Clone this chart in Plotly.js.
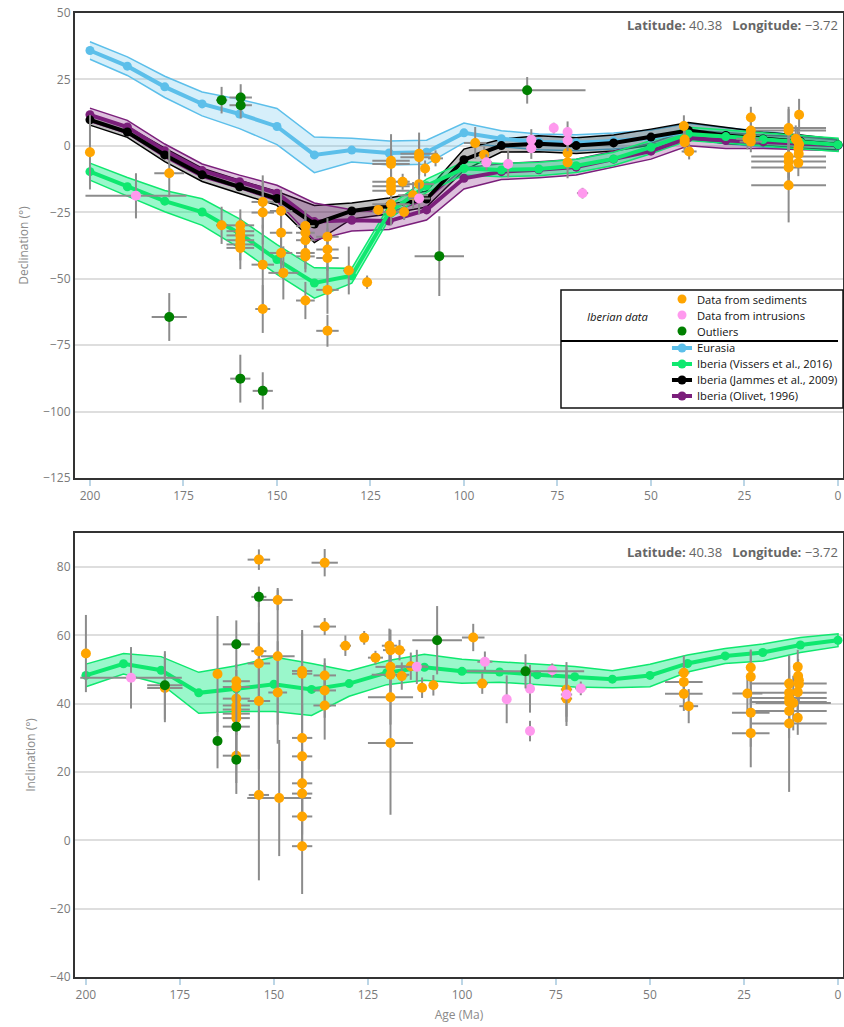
<!DOCTYPE html>
<html>
<head>
<meta charset="utf-8">
<script src="https://cdn.plot.ly/plotly-3.0.1.min.js"></script>
<style>
html,body{margin:0;padding:0;background:#fff;}
#chart{width:844px;height:1027px;}
</style>
</head>
<body>
<div id="chart"></div>
<script>
// ---------- APWP model curves (age in Ma) ----------
const modelAges = [200,190,180,170,160,150,140,130,120,110,100,90,80,70,60,50,40,30,20,10,0];

const eurasiaDec    = [35.9,30,22.2,15.8,12,7.3,-3.4,-1.6,-2.7,-2.4,4.9,2.7,1.5,1.2,1.8,3,5.5,3.8,2.5,1.5,0.2];
const eurasiaDecErr = [3.3,3.5,4,4.5,5.5,6.8,6.7,4.5,4.5,4.5,3.7,3,3,3,3,3,3,3,3,2.5,2];

const vissersDec    = [-9.7,-15.4,-20.8,-24.9,-33,-42.8,-51.6,-48.9,-25,-15,-8.5,-9.1,-8.7,-7.5,-4.9,-0.5,4.5,3.5,2.4,1.4,0.4];
const vissersDecErr = [3.2,3.5,4,5,5.5,5.6,5.7,2.8,2.5,2.5,2.5,2.5,2.5,2.5,2.5,2.5,2.5,2.5,2.5,2.5,2.5];

const jammesDec     = [9.8,5.2,-3.4,-10.9,-15.4,-19.8,-29.4,-24.5,-22.6,-20,-5.2,0.1,0.8,0.1,1.1,3.3,5.8,3.9,2.6,1.6,0.4];
const jammesDecErr  = [2,2,2.5,2.5,2.5,2.6,7,3,3,3,4,2.4,3,3,3,3,3,3,2.5,2.5,2];

const olivetDec     = [11.7,7.1,-1.8,-9.3,-13.5,-17.8,-28.5,-28,-28.3,-24.1,-12.2,-9.7,-9,-8,-5,-2,3,2,1.5,1,0.2];
const olivetDecErr  = [2.5,2.5,2.5,2.5,2.5,3,7,4,3.2,3.8,4,3,3,3,3,3,3,3,2.5,2.5,2];

const vissersInc    = [48.3,51.7,49.8,43.2,44.4,45.7,44.2,45.9,49.1,50.7,49.5,49.3,48.5,47.9,47.2,48.3,51.8,54,55,57.2,58.6];
const vissersIncErr = [3.3,3,4,6,6.7,8,7.6,3.7,3.5,3.8,3.5,3,3,3,2.5,3.3,2.5,2.2,2.5,2.2,1.9];

// ---------- Iberian data: [age, value, valueErr, ageErr] ----------
const decSediments = [
 [200,-2.4,14,0.5],[178.8,-10.3,9,4],[164.8,-29.9,7,1.5],
 [159.8,-29.9,6,3.7],[159.8,-32.1,5,3.7],[159.8,-33.7,6,3.7],[159.8,-35.5,5,3.7],[159.8,-37.1,6,3.7],[159.8,-38.4,8,3.7],
 [153.8,-21.1,10,3],[153.8,-25.1,12,3],[153.8,-44.7,15,3],[153.8,-61.4,9,2],
 [148.9,-24.5,8,3],[148.9,-32.7,7,3],[148.9,-40.3,8,3],[148.3,-47.8,10,4],
 [142.4,-30.2,6,2.5],[142.4,-32.7,6,2.5],[142.4,-35.5,6,2.5],[142.4,-40.3,6,2.5],[142.4,-41.6,6,2.5],[142.4,-58.2,7,2.5],
 [136.5,-34.2,7,3],[136.5,-39,8,3],[136.5,-42.2,9,3],[136.5,-54.2,9,3],[136.5,-69.6,6,3],
 [130.8,-46.9,9,1.5],[125.9,-51.3,2.5,1],[122.9,-24.1,2,1.5],
 [119.5,-5.6,10,5],[119.5,-6.8,6,5],[119.5,-13.5,6,5],[119.5,-15.2,5,5],[119.5,-16.9,5,5],[119.5,-22,7,5],[119.5,-24.9,5,5],
 [116.4,-13.5,3,1.5],[116,-24.9,3,1.5],[112,-3,8,5],[112,-4.3,6,5],[112,-14.4,10,4],[110.4,-8.5,3,1],[113.6,-18.6,5,4],
 [107.6,-4.7,3,2],[97,1.1,6,3],[94.6,-3.3,3,1.5],[72.3,-2.7,6,1],[72.3,-6.2,6,1],
 [41.2,7.5,4,1],[41,2.4,4,1],[41,1.4,4,1],[39.8,-2.1,3,2],
 [23.3,10.7,4,1],[23.3,5.8,4,1],[23.3,3.9,4,1],[24.2,2.7,4,3],[23.3,1.6,4,3],
 [13.2,6.7,8,10],[13.2,5.8,8,10],[13.2,-4,8,10],[13.2,-5.9,8,10],[13.2,-8.1,8,10],[13.2,-14.8,14,10],
 [10.4,11.7,6,1],[11.3,2.7,5,1],[10.8,1.8,5,1],[10.4,0.5,5,1],[10.6,-1,5,1],[10.5,-3,5,1],[10.6,-6.4,5,1]
];
const decIntrusions = [
 [187.7,-18.8,8.5,13.5],[112,-19.8,6,3],[94,-6.2,3,1.5],[88.2,-6.8,5,1],[82,2.3,4,1],[82,-0.9,4,1],
 [76,6.7,2,1],[72.3,5.2,4,1],[72.3,2.0,4,1],[68.3,-17.8,2,1.5]
];
const decOutliers = [
 [178.8,-64.4,9,4.7],[164.8,17.2,5,1.5],[159.7,18.2,5,3],[159.7,15.3,5,3],
 [159.8,-87.6,9,2.7],[153.8,-92.2,7,2.7],[106.6,-41.5,15,6.6],[83.1,20.9,5,15.6]
];

const incSediments = [
 [200,54.7,11.3,0.5],[179,44.6,10,4.7],[165,48.7,17,1],
 [160,46.6,5,3.6],[160,44.9,5,3.6],[160,41.5,5,3.6],[160,39.5,5,3.6],[160,38.3,5,3.6],[160,37.1,5,3.6],[160,35.8,5,3.6],[160,24.8,8,3.6],
 [154,82.2,3,3],[154,55.4,15,2],[154,51.8,12,3],[154,40.8,20,3],[154,13.3,25,2.7],
 [149,70.4,3,4],[149,53.9,20,4.5],[149,43.3,15,2.5],[148.6,12.4,17,8.5],
 [142.5,49.6,12,2.7],[142.5,48.8,12,2.7],[142.5,30,10,2.7],[142.5,24.6,12,2.7],[142.5,16.7,10,2.7],[142.5,13.7,12,2.7],[142.5,7,10,2.7],[142.5,-1.7,14,2.7],
 [136.5,81.3,4,3.5],[136.5,62.6,2.5,3],[136.5,48.3,5,3],[136.5,43.9,8,3],[136.5,39.5,10,3],
 [131,57,3,1.5],[126,59.3,2,1],[123,53.5,2,2],
 [119.3,57,5,2],[119,55.7,6,2],[119,50.8,6,4],[119,48.5,6,5],[119,41.9,8,6],[119,28.5,21,6],
 [116.6,55.7,3,1.5],[116,48.1,4,1.5],[113.6,51,4,4],[110.6,44.7,3,1],[107.6,45.4,3,1],
 [97,59.4,4,3],[94.6,45.9,3,1.5],[72.2,44.2,8,1.5],[72.2,41.5,8,1.5],
 [41,49.1,5,1.5],[41,46.4,5,5],[41,42.9,5,5],[39.7,39.3,5,2.5],
 [23.2,50.6,5,1],[23.2,47.9,8,1],[24.1,43,5,4],[23.2,37.4,10,5],[23.2,31.4,10,5],
 [13,45.9,8,10],[13,43.2,8,10],[13,41.7,8,10],[13,40.5,8,10],[11.9,40.2,8,10],[13,37.9,8,10],[13,34.2,20,10],
 [10.7,50.8,5,1],[10.6,48.1,5,1],[10.4,46.9,5,1],[10.4,45.7,5,1],[10.7,43.4,6,1],[10.7,35.9,5,1]
];
const incIntrusions = [
 [188,47.6,9,13.5],[112,50.8,5,3],[93.9,52.3,3,2],[88.1,41.3,7,1],[81.9,44.4,7,1],[81.9,32,3,1],
 [76,49.8,2,1],[72.2,42.7,8,1.5],[68.4,44.5,2,1.5]
];
const incOutliers = [
 [179,45.4,10,4.7],[165,29.1,8,1],[160,57.4,7,3.6],[160,33.3,10,3.6],[160,23.6,10,1],
 [154,71.3,3,2],[106.6,58.6,10,6.6],[83.1,49.5,5,15.6]
];

const ageTicks = [200,175,150,125,100,75,50,25,0];
const decTicks = [50,25,0,-25,-50,-75,-100,-125];
const incTicks = [80,60,40,20,0,-20,-40];

const legendDataLabels = ['Data from sediments','Data from intrusions','Outliers'];
const legendCurveLabels = ['Eurasia','Iberia (Vissers et al., 2016)','Iberia (Jammes et al., 2009)','Iberia (Olivet, 1996)'];

// ---------- styles ----------
const C = {
  eur:'#5cbfea', eurFill:'rgba(92,191,234,0.25)',
  vis:'#0fe86f', visFill:'rgba(15,235,130,0.42)',
  jam:'#000000', jamFill:'rgba(0,0,0,0.25)',
  oli:'#7b1f7b', oliFill:'rgba(128,30,128,0.28)',
  sed:'#ffa500', intr:'#ff99ee', out:'#008000'
};

const traces = [];
function band(vals, errs, line, fill, xa, ya){
  const up = vals.map((v,i)=>v+errs[i]);
  const lo = vals.map((v,i)=>v-errs[i]);
  traces.push({x: modelAges.concat(modelAges.slice().reverse()), y: up.concat(lo.slice().reverse()),
    xaxis:xa, yaxis:ya, mode:'lines', fill:'toself', fillcolor:fill,
    line:{color:line,width:1.5}, hoverinfo:'skip', showlegend:false});
}
function curve(vals, color, xa, ya){
  traces.push({x: modelAges, y: vals, xaxis:xa, yaxis:ya, mode:'lines+markers',
    line:{color:color,width:4}, marker:{color:color,size:9}, showlegend:false});
}
function dataPts(rows, color, xa, ya){
  traces.push({x: rows.map(r=>r[0]), y: rows.map(r=>r[1]), xaxis:xa, yaxis:ya, mode:'markers',
    marker:{color:color,size:10},
    error_y:{type:'data', array: rows.map(r=>r[2]), color:'#8c8c8c', thickness:2, width:0},
    error_x:{type:'data', array: rows.map(r=>r[3]), color:'#8c8c8c', thickness:2, width:0},
    showlegend:false});
}

// top: declination
band(eurasiaDec, eurasiaDecErr, C.eur, C.eurFill, 'x','y');
band(jammesDec, jammesDecErr, C.jam, C.jamFill, 'x','y');
band(olivetDec, olivetDecErr, C.oli, C.oliFill, 'x','y');
band(vissersDec, vissersDecErr, C.vis, C.visFill, 'x','y');
curve(eurasiaDec, C.eur, 'x','y');
curve(olivetDec, C.oli, 'x','y');
curve(jammesDec, C.jam, 'x','y');
curve(vissersDec, C.vis, 'x','y');
dataPts(decSediments, C.sed, 'x','y');
dataPts(decIntrusions, C.intr, 'x','y');
dataPts(decOutliers, C.out, 'x','y');

// bottom: inclination
band(vissersInc, vissersIncErr, C.vis, C.visFill, 'x2','y2');
curve(vissersInc, C.vis, 'x2','y2');
dataPts(incSediments, C.sed, 'x2','y2');
dataPts(incIntrusions, C.intr, 'x2','y2');
dataPts(incOutliers, C.out, 'x2','y2');

// ---------- layout ----------
const FAM = '"Open Sans", sans-serif';
const font = {family:FAM, size:12, color:'#7a7a7a'};
function xax(range, anchor, title){
  return {range:range, anchor:anchor, domain:[0,1], tickvals:ageTicks, ticks:'outside', ticklen:6, tickwidth:2,
    tickcolor:'#bcd6e6', showgrid:false, zeroline:false, showline:true, linecolor:'#333', linewidth:2, mirror:true,
    tickfont:{family:FAM,size:12,color:'#7a7a7a'},
    title: title ? {text:title, font:{family:FAM,size:12,color:'#8a8a8a'}, standoff:8} : undefined};
}
function yax(range, domain, ticks, title){
  return {range:range, domain:domain, tickvals:ticks, ticks:'', showgrid:true, gridcolor:'#dedede', gridwidth:2,
    zeroline:false, showline:true, linecolor:'#333', linewidth:2, mirror:true,
    tickfont:{family:FAM,size:12,color:'#7a7a7a'},
    title:{text:title, font:{family:FAM,size:12,color:'#8a8a8a'}, standoff:12}};
}

const shapes = [];
const annotations = [];
// legend box
const LX0 = 0.6328, LX1 = 1.0, LY0 = 0.5902, LY1 = 0.7127;
shapes.push({type:'rect', xref:'paper', yref:'paper', x0:LX0, x1:LX1, y0:LY0, y1:LY1,
  line:{color:'#111', width:1.5}, fillcolor:'#fff', layer:'above'});
shapes.push({type:'line', xref:'paper', yref:'paper', x0:LX0, x1:0.9935, y0:0.6598, y1:0.6598,
  line:{color:'#000', width:2}, layer:'above'});
const rowY = [0.7033,0.6867,0.6701,0.6525,0.6359,0.6193,0.6027];
const mx = 0.7904;
const dataColors = [C.sed, C.intr, C.out];
const curveColors = [C.eur, C.vis, C.jam, C.oli];
const legFont = {family:FAM, size:11.2, color:'#111'};
legendDataLabels.forEach((lab,i)=>{
  shapes.push({type:'circle', xref:'paper', yref:'paper', xsizemode:'pixel', ysizemode:'pixel',
    xanchor:mx, yanchor:rowY[i], x0:-4.5, x1:4.5, y0:-4.5, y1:4.5,
    fillcolor:dataColors[i], line:{width:0}, layer:'above'});
  annotations.push({xref:'paper', yref:'paper', x:0.8073, y:rowY[i], xanchor:'left', yanchor:'middle',
    text:lab, showarrow:false, font:legFont});
});
legendCurveLabels.forEach((lab,i)=>{
  const y = rowY[i+3];
  shapes.push({type:'line', xref:'paper', yref:'paper', x0:0.7773, x1:0.8034, y0:y, y1:y,
    line:{color:curveColors[i], width:4}, layer:'above'});
  shapes.push({type:'circle', xref:'paper', yref:'paper', xsizemode:'pixel', ysizemode:'pixel',
    xanchor:mx, yanchor:y, x0:-4.5, x1:4.5, y0:-4.5, y1:4.5,
    fillcolor:curveColors[i], line:{width:0}, layer:'above'});
  annotations.push({xref:'paper', yref:'paper', x:0.8073, y:y, xanchor:'left', yanchor:'middle',
    text:lab, showarrow:false, font:legFont});
});
annotations.push({xref:'paper', yref:'paper', x:0.707, y:0.685, xanchor:'center', yanchor:'middle',
  text:'<i>Iberian data</i>', showarrow:false, font:legFont});

// location labels
const locText = '<b>Latitude:</b> 40.38   <b>Longitude:</b> \u22123.72';
const locFont = {family:FAM, size:13, color:'#666'};
annotations.push({xref:'paper', yref:'paper', x:0.996, y:0.9876, xanchor:'right', yanchor:'middle',
  text:locText, showarrow:false, font:locFont});
annotations.push({xref:'paper', yref:'paper', x:0.996, y:0.4409, xanchor:'right', yanchor:'middle',
  text:locText, showarrow:false, font:locFont});

const layout = {
  width:844, height:1027,
  margin:{l:75, r:1, t:13, b:50},
  paper_bgcolor:'#fff', plot_bgcolor:'#fff',
  font:font, showlegend:false,
  xaxis: xax([204,-1.34],'y',null),
  yaxis: yax([-125,50],[0.5176,1],decTicks,'Declination (°)'),
  xaxis2: xax([202.9,-1.33],'y2','Age (Ma)'),
  yaxis2: yax([-40,90],[0,0.4606],incTicks,'Inclination (°)'),
  shapes:shapes, annotations:annotations
};

Plotly.newPlot('chart', traces, layout, {displayModeBar:false, staticPlot:true});
</script>
</body>
</html>
